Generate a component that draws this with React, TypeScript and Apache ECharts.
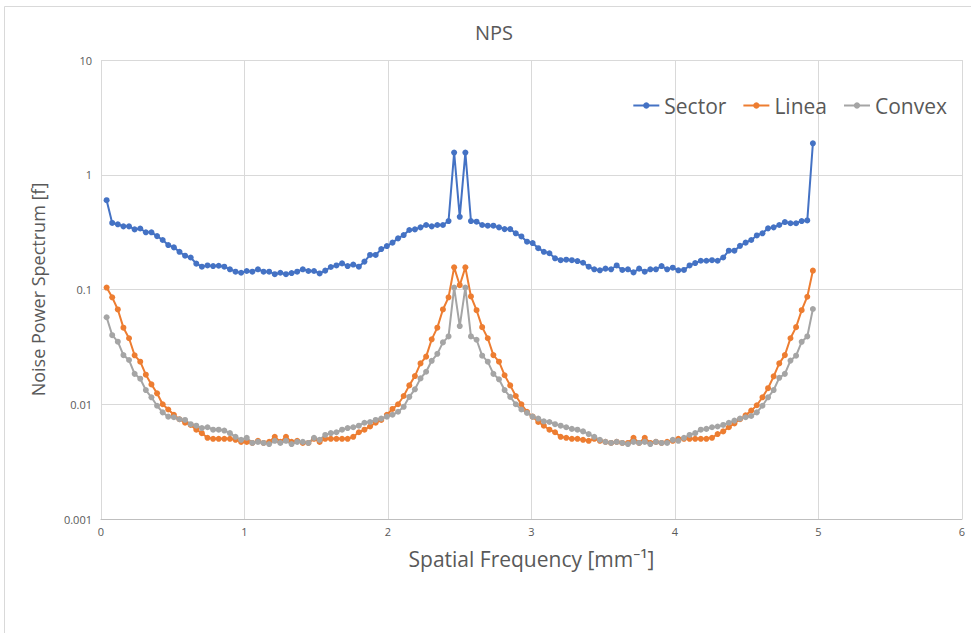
import React, { useEffect, useRef } from "react";
import * as echarts from "echarts";

// Frequency bins: index i (1..127) of a 128-bin spectrum up to Nyquist 5 mm^-1
const binCount = 127;
const nyquist = 5;
const binIndex: number[] = Array.from({ length: binCount }, (_, k) => k + 1);

const sector: number[] = [
  0.60, 0.38, 0.37, 0.355, 0.355, 0.334, 0.34, 0.315, 0.315, 0.292,
  0.27, 0.244, 0.233, 0.213, 0.197, 0.19, 0.168, 0.158, 0.162, 0.16,
  0.161, 0.158, 0.15, 0.143, 0.14, 0.145, 0.143, 0.15, 0.143, 0.143,
  0.136, 0.14, 0.136, 0.139, 0.143, 0.15, 0.145, 0.145, 0.138, 0.146,
  0.157, 0.162, 0.169, 0.16, 0.165, 0.158, 0.175, 0.2, 0.2, 0.225,
  0.239, 0.256, 0.279, 0.298, 0.33, 0.334, 0.348, 0.365, 0.355, 0.365,
  0.365, 0.395, 1.56, 0.43, 1.56, 0.395, 0.39, 0.365, 0.36, 0.36,
  0.348, 0.336, 0.336, 0.309, 0.29, 0.261, 0.254, 0.229, 0.213, 0.207,
  0.187, 0.18, 0.182, 0.18, 0.177, 0.171, 0.158, 0.15, 0.147, 0.152,
  0.15, 0.162, 0.148, 0.15, 0.141, 0.152, 0.143, 0.15, 0.15, 0.16,
  0.15, 0.155, 0.147, 0.148, 0.162, 0.17, 0.178, 0.178, 0.18, 0.178,
  0.19, 0.218, 0.218, 0.24, 0.256, 0.27, 0.296, 0.309, 0.341, 0.348,
  0.365, 0.387, 0.378, 0.378, 0.395, 0.40, 1.88,
];

const linea: number[] = [
  0.104, 0.0855, 0.067, 0.0465, 0.0376, 0.0267, 0.0235, 0.0181, 0.0149, 0.01245,
  0.0100, 0.0090, 0.0081, 0.0074, 0.0069, 0.0066, 0.0060, 0.0056, 0.0051, 0.0050,
  0.0050, 0.0050, 0.0050, 0.0049, 0.0047, 0.0047, 0.0046, 0.0048, 0.0046, 0.0047,
  0.0052, 0.0047, 0.0052, 0.0047, 0.0048, 0.0046, 0.0046, 0.0050, 0.0047, 0.0050,
  0.0050, 0.0050, 0.0050, 0.0050, 0.0052, 0.0057, 0.0060, 0.0064, 0.0069, 0.0073,
  0.0081, 0.0091, 0.0100, 0.0118, 0.0146, 0.0176, 0.0227, 0.0260, 0.0368, 0.0465,
  0.067, 0.0855, 0.156, 0.109, 0.156, 0.087, 0.066, 0.047, 0.0376, 0.0268,
  0.0235, 0.0179, 0.0146, 0.0118, 0.0100, 0.0086, 0.0078, 0.0070, 0.0065, 0.0060,
  0.0057, 0.0052, 0.0051, 0.0050, 0.0050, 0.0049, 0.0048, 0.0050, 0.0048, 0.0047,
  0.0046, 0.0047, 0.0046, 0.0046, 0.0051, 0.0046, 0.0051, 0.0046, 0.0047, 0.0046,
  0.0047, 0.0048, 0.0050, 0.0050, 0.0050, 0.0050, 0.0050, 0.0050, 0.0051, 0.0055,
  0.0058, 0.0063, 0.0068, 0.0074, 0.0080, 0.0088, 0.0098, 0.0115, 0.0138, 0.0175,
  0.0227, 0.0268, 0.0376, 0.047, 0.066, 0.0865, 0.146,
];

const convex: number[] = [
  0.0573, 0.040, 0.0351, 0.0268, 0.0243, 0.0184, 0.0167, 0.0133, 0.0115, 0.0097,
  0.0085, 0.0078, 0.0077, 0.0074, 0.0073, 0.0067, 0.0065, 0.0062, 0.0063, 0.0060,
  0.0060, 0.0059, 0.0056, 0.0052, 0.0049, 0.0051, 0.0046, 0.0047, 0.0046, 0.0045,
  0.0048, 0.0046, 0.0048, 0.0045, 0.0047, 0.0047, 0.0046, 0.0051, 0.0049, 0.0054,
  0.0056, 0.0057, 0.0060, 0.0062, 0.0063, 0.0065, 0.0069, 0.0070, 0.0073, 0.0075,
  0.0078, 0.0081, 0.0086, 0.0095, 0.0116, 0.0135, 0.0168, 0.0192, 0.0239, 0.0275,
  0.0346, 0.039, 0.104, 0.048, 0.104, 0.039, 0.0365, 0.0265, 0.0235, 0.0184,
  0.0165, 0.0133, 0.0116, 0.0100, 0.0090, 0.0084, 0.0078, 0.0075, 0.0071, 0.0070,
  0.0067, 0.0065, 0.0063, 0.0061, 0.0060, 0.0058, 0.0055, 0.0052, 0.0049, 0.0047,
  0.0046, 0.0047, 0.0046, 0.0045, 0.0047, 0.0046, 0.0047, 0.0045, 0.0047, 0.0046,
  0.0046, 0.0049, 0.0048, 0.0051, 0.0054, 0.0056, 0.0060, 0.0061, 0.0063, 0.0064,
  0.0066, 0.0069, 0.0072, 0.0075, 0.0077, 0.0079, 0.0085, 0.0097, 0.0115, 0.0133,
  0.0170, 0.0184, 0.0240, 0.0265, 0.0350, 0.0390, 0.0676,
];

const seriesNames = ["Sector", "Linea", "Convex"];
const seriesColors = ["#4472C4", "#ED7D31", "#A5A5A5"];
const xTicks = [0, 1, 2, 3, 4, 5, 6];
const yTicks = [0.001, 0.01, 0.1, 1, 10];

const FONT = "'Open Sans', 'Noto Sans', sans-serif";
const TEXT = "#595959";

export default function App() {
  const ref = useRef<HTMLDivElement>(null);
  useEffect(() => {
    if (!ref.current) return;
    const chart = echarts.init(ref.current, undefined, { renderer: "svg" });
    const freq = binIndex.map((i) => (i * nyquist) / (binCount + 1));
    const pairs = (vals: number[]) => vals.map((v, k) => [freq[k], v]);
    const allData = [sector, linea, convex];
    chart.setOption({
      animation: false,
      backgroundColor: "#ffffff",
      textStyle: { fontFamily: FONT },
      title: {
        text: "NPS",
        left: 470,
        top: 17,
        textStyle: { fontFamily: FONT, fontSize: 20, fontWeight: "normal", color: TEXT },
      },
      graphic: [
        {
          type: "rect",
          shape: { x: 4.5, y: 6.5, width: 1000, height: 700 },
          style: { fill: "none", stroke: "#d9d9d9", lineWidth: 1 },
          silent: true,
        },
      ],
      legend: {
        data: seriesNames,
        right: 19,
        top: 90,
        itemGap: 16,
        itemWidth: 26,
        itemHeight: 8,
        textStyle: { fontFamily: FONT, fontSize: 21, color: TEXT },
      },
      grid: { left: 101, right: 9, top: 60, bottom: 114, containLabel: false },
      xAxis: {
        type: "value",
        min: xTicks[0],
        max: xTicks[xTicks.length - 1],
        interval: 1,
        name: "Spatial Frequency [mm⁻¹]",
        nameLocation: "middle",
        nameGap: 29,
        nameTextStyle: { fontFamily: FONT, fontSize: 21, color: TEXT },
        axisLine: { show: true, lineStyle: { color: "#bfbfbf" } },
        axisTick: { show: false },
        axisLabel: { fontFamily: FONT, fontSize: 11, color: TEXT, margin: 7 },
        splitLine: { show: true, lineStyle: { color: "#d9d9d9" } },
      },
      yAxis: {
        type: "log",
        logBase: 10,
        min: yTicks[0],
        max: yTicks[yTicks.length - 1],
        name: "Noise Power Spectrum [f]",
        nameLocation: "middle",
        nameGap: 54,
        nameTextStyle: { fontFamily: FONT, fontSize: 18, color: TEXT },
        axisLine: { show: false },
        axisTick: { show: false },
        axisLabel: {
          fontFamily: FONT,
          fontSize: 11,
          color: TEXT,
          margin: 9,
          formatter: (v: number) => (v >= 1 ? String(Math.round(v)) : String(+v.toPrecision(1))),
        },
        splitLine: { show: true, lineStyle: { color: "#d9d9d9" } },
      },
      series: seriesNames.map((name, s) => ({
        name,
        type: "line",
        data: pairs(allData[s]),
        symbol: "circle",
        symbolSize: 6,
        showSymbol: true,
        color: seriesColors[s],
        lineStyle: { width: 2, color: seriesColors[s] },
        itemStyle: { color: seriesColors[s] },
      })),
    });
    return () => chart.dispose();
  }, []);
  return (
    <div
      ref={ref}
      style={{ position: "fixed", left: 0, top: 0, width: 971, height: 633 }}
    />
  );
}
